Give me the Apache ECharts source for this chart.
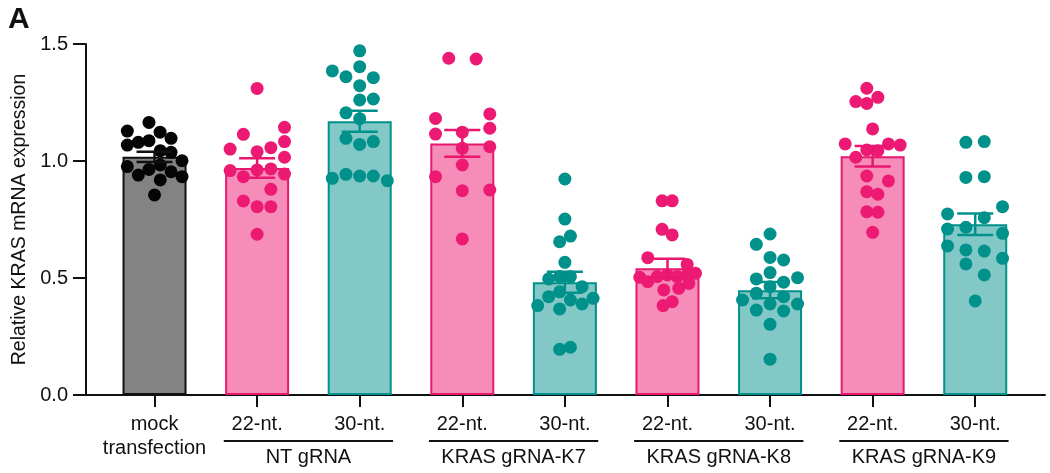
<!DOCTYPE html>
<html>
<head>
<meta charset="utf-8">
<script src="https://cdn.jsdelivr.net/npm/echarts@6/dist/echarts.min.js"></script>
<style>html,body{margin:0;padding:0;background:#fff}#c{width:1050px;height:473px}</style>
</head>
<body>
<div id="c"></div>
<script>
const categories = ['mock\ntransfection','22-nt.','30-nt.','22-nt.','30-nt.','22-nt.','30-nt.','22-nt.','30-nt.'];
const groupNames = ['NT gRNA','KRAS gRNA-K7','KRAS gRNA-K8','KRAS gRNA-K9'];
const groupSpans = [[1,2],[3,4],[5,6],[7,8]];
const yTicks = [0, 0.5, 1.0, 1.5];
const means = [1.018, 0.97, 1.17, 1.075, 0.482, 0.542, 0.448, 1.02, 0.73];
const sems  = [0.022, 0.042, 0.045, 0.057, 0.045, 0.04, 0.035, 0.044, 0.046];
const kinds = ['mock','p','t','p','t','p','t','p','t'];

// dots: [x offset within category (axis units), value]
const mockPts = [[-0.054,1.165],[-0.265,1.128],[0.054,1.123],[0.161,1.097],[-0.265,1.068],[-0.158,1.080],[-0.054,1.087],[0.056,1.044],[0.161,1.037],[0.268,1.001],[-0.265,0.976],[-0.158,0.940],[-0.054,0.964],[0.056,0.983],[0.161,0.954],[0.268,0.933],[0.056,0.919],[0,0.855]];
const nt22Pts = [[0,1.31],[0.267,1.144],[-0.134,1.114],[0.267,1.083],[-0.263,1.051],[0.134,1.057],[0,1.040],[0.267,1.016],[-0.263,0.959],[-0.134,0.933],[0,0.962],[0.134,0.966],[0.267,0.944],[0.134,0.879],[-0.134,0.829],[0,0.805],[0.134,0.805],[0,0.687]];
const nt30Pts = [[0,1.471],[-0.267,1.385],[0,1.403],[-0.134,1.360],[0.133,1.356],[0,1.322],[0,1.261],[0.133,1.265],[-0.134,1.206],[0,1.181],[-0.134,1.097],[0,1.071],[0.133,1.083],[-0.267,0.926],[-0.134,0.943],[0,0.936],[0.133,0.936],[0.269,0.916]];
const k7_22Pts = [[-0.132,1.439],[0.135,1.436],[-0.261,1.182],[0.268,1.201],[-0.261,1.115],[0.268,1.140],[0,1.123],[0,1.054],[0.268,1.061],[0,0.983],[-0.261,0.933],[0,0.873],[0.268,0.876],[0,0.667]];
const k7_30Pts = [[0,0.923],[0,0.752],[0.054,0.679],[-0.051,0.655],[0,0.567],[-0.158,0.496],[-0.051,0.506],[0.054,0.506],[0.168,0.463],[-0.051,0.441],[-0.158,0.420],[0.054,0.406],[0.168,0.389],[0.275,0.413],[-0.265,0.382],[-0.051,0.368],[-0.051,0.195],[0.054,0.204]];
const k8_22Pts = [[-0.052,0.830],[0.046,0.830],[-0.052,0.708],[0.046,0.684],[-0.192,0.587],[0.192,0.558],[-0.27,0.503],[-0.192,0.484],[-0.1,0.506],[0,0.513],[0.095,0.506],[0.192,0.513],[0.273,0.520],[-0.036,0.449],[0.11,0.456],[0.208,0.477],[-0.042,0.382],[0.046,0.399]];
const k8_30Pts = [[0,0.688],[-0.134,0.644],[0,0.588],[0.132,0.577],[0,0.523],[-0.134,0.496],[0.132,0.482],[0.268,0.501],[0,0.463],[-0.134,0.435],[-0.268,0.406],[0.132,0.420],[0.268,0.389],[0,0.389],[-0.134,0.363],[0.132,0.359],[0,0.302],[0,0.153]];
const k9_22Pts = [[-0.057,1.311],[-0.164,1.254],[-0.057,1.246],[0.051,1.272],[0,1.137],[-0.268,1.073],[-0.057,1.047],[0.051,1.044],[0.154,1.073],[0.268,1.068],[-0.164,1.016],[-0.057,0.936],[0.154,0.915],[-0.057,0.869],[0.051,0.858],[-0.057,0.783],[0.051,0.781],[0,0.695]];
const k9_30Pts = [[-0.091,1.080],[0.088,1.083],[-0.091,0.930],[0.088,0.933],[0.266,0.805],[-0.27,0.774],[0.088,0.758],[-0.27,0.709],[-0.091,0.717],[0.266,0.691],[-0.27,0.637],[-0.091,0.620],[0.088,0.615],[0.266,0.584],[-0.091,0.560],[0.088,0.513],[0,0.402]];
const allPts = [mockPts, nt22Pts, nt30Pts, k7_22Pts, k7_30Pts, k8_22Pts, k8_30Pts, k9_22Pts, k9_30Pts];

const palette = {
  mock: {fill:'#838383', edge:'#111111', dot:'#050505'},
  p:    {fill:'#F68CB8', edge:'#E8176F', dot:'#EC1A72'},
  t:    {fill:'#82C8C6', edge:'#00918B', dot:'#00918B'}
};
const FONT = '"Liberation Sans", Arial, Helvetica, sans-serif';

const barData = means.map((m,i)=>({value:[i,m], itemStyle:{color:palette[kinds[i]].fill, borderColor:palette[kinds[i]].edge, borderWidth:2}}));
const dotData = [];
allPts.forEach((pts,i)=>pts.forEach(p=>dotData.push({value:[i+p[0], p[1]], itemStyle:{color:palette[kinds[i]].dot, opacity:1}})));
const errData = means.map((m,i)=>[i, m, sems[i]]);
const groupData = groupSpans.map((s,k)=>[s[0], s[1], k]);
const tickVals = categories.map((c,i)=>i);

const chart = echarts.init(document.getElementById('c'), null, {renderer:'canvas'});
chart.setOption({
  animation:false,
  backgroundColor:'#fff',
  title:{text:'A', left:3, top:0, textStyle:{fontFamily:FONT, fontSize:30, fontWeight:'bold', color:'#111'}},
  grid:{left:86, right:5, top:44, bottom:78},
  xAxis:{
    type:'value', min:-0.668, max:8.68,
    splitLine:{show:false},
    axisLine:{show:true, onZero:false, lineStyle:{color:'#111', width:2}},
    axisTick:{show:true, customValues:tickVals, length:12, lineStyle:{color:'#111', width:2}},
    axisLabel:{show:true, customValues:tickVals, formatter:v=>categories[Math.round(v)], fontFamily:FONT, fontSize:20, color:'#111', lineHeight:24, margin:17}
  },
  yAxis:{
    type:'value', min:0, max:1.5, interval:0.5,
    splitLine:{show:false},
    axisLine:{show:true, onZero:false, lineStyle:{color:'#111', width:2}},
    axisTick:{show:true, length:13, lineStyle:{color:'#111', width:2}},
    axisLabel:{formatter:v=>v.toFixed(1), fontFamily:FONT, fontSize:20, color:'#111', margin:18},
    name:'Relative KRAS mRNA expression', nameLocation:'middle', nameGap:53,
    nameTextStyle:{fontFamily:FONT, fontSize:19.5, color:'#111'}
  },
  series:[
    {type:'bar', data:barData, barWidth:64, z:2},
    {type:'scatter', data:dotData, symbolSize:13, z:3},
    {type:'custom', z:4, data:errData, clip:false,
      renderItem:(params, api)=>{
        const i = api.value(0), m = api.value(1), s = api.value(2);
        const col = palette[kinds[i]].edge;
        const top = api.coord([i, m+s]), bot = api.coord([i, m-s]);
        const hw = 18;
        const st = {stroke:col, lineWidth:2.5};
        return {type:'group', children:[
          {type:'line', shape:{x1:top[0], y1:top[1], x2:bot[0], y2:bot[1]}, style:st},
          {type:'line', shape:{x1:top[0]-hw, y1:top[1], x2:top[0]+hw, y2:top[1]}, style:st},
          {type:'line', shape:{x1:bot[0]-hw, y1:bot[1], x2:bot[0]+hw, y2:bot[1]}, style:st}
        ]};
      }
    },
    {type:'custom', z:5, data:groupData, clip:false, silent:true,
      renderItem:(params, api)=>{
        const a = api.coord([api.value(0)-0.325, 0]);
        const b = api.coord([api.value(1)+0.325, 0]);
        const k = api.value(2);
        const yl = a[1] + 46;
        return {type:'group', children:[
          {type:'line', shape:{x1:a[0], y1:yl, x2:b[0], y2:yl}, style:{stroke:'#111', lineWidth:2}},
          {type:'text', x:(a[0]+b[0])/2, y:yl+16, style:{text:groupNames[k], fontFamily:FONT, fontSize:20, fill:'#111', align:'center', verticalAlign:'middle'}}
        ]};
      }
    }
  ]
});
</script>
</body>
</html>
